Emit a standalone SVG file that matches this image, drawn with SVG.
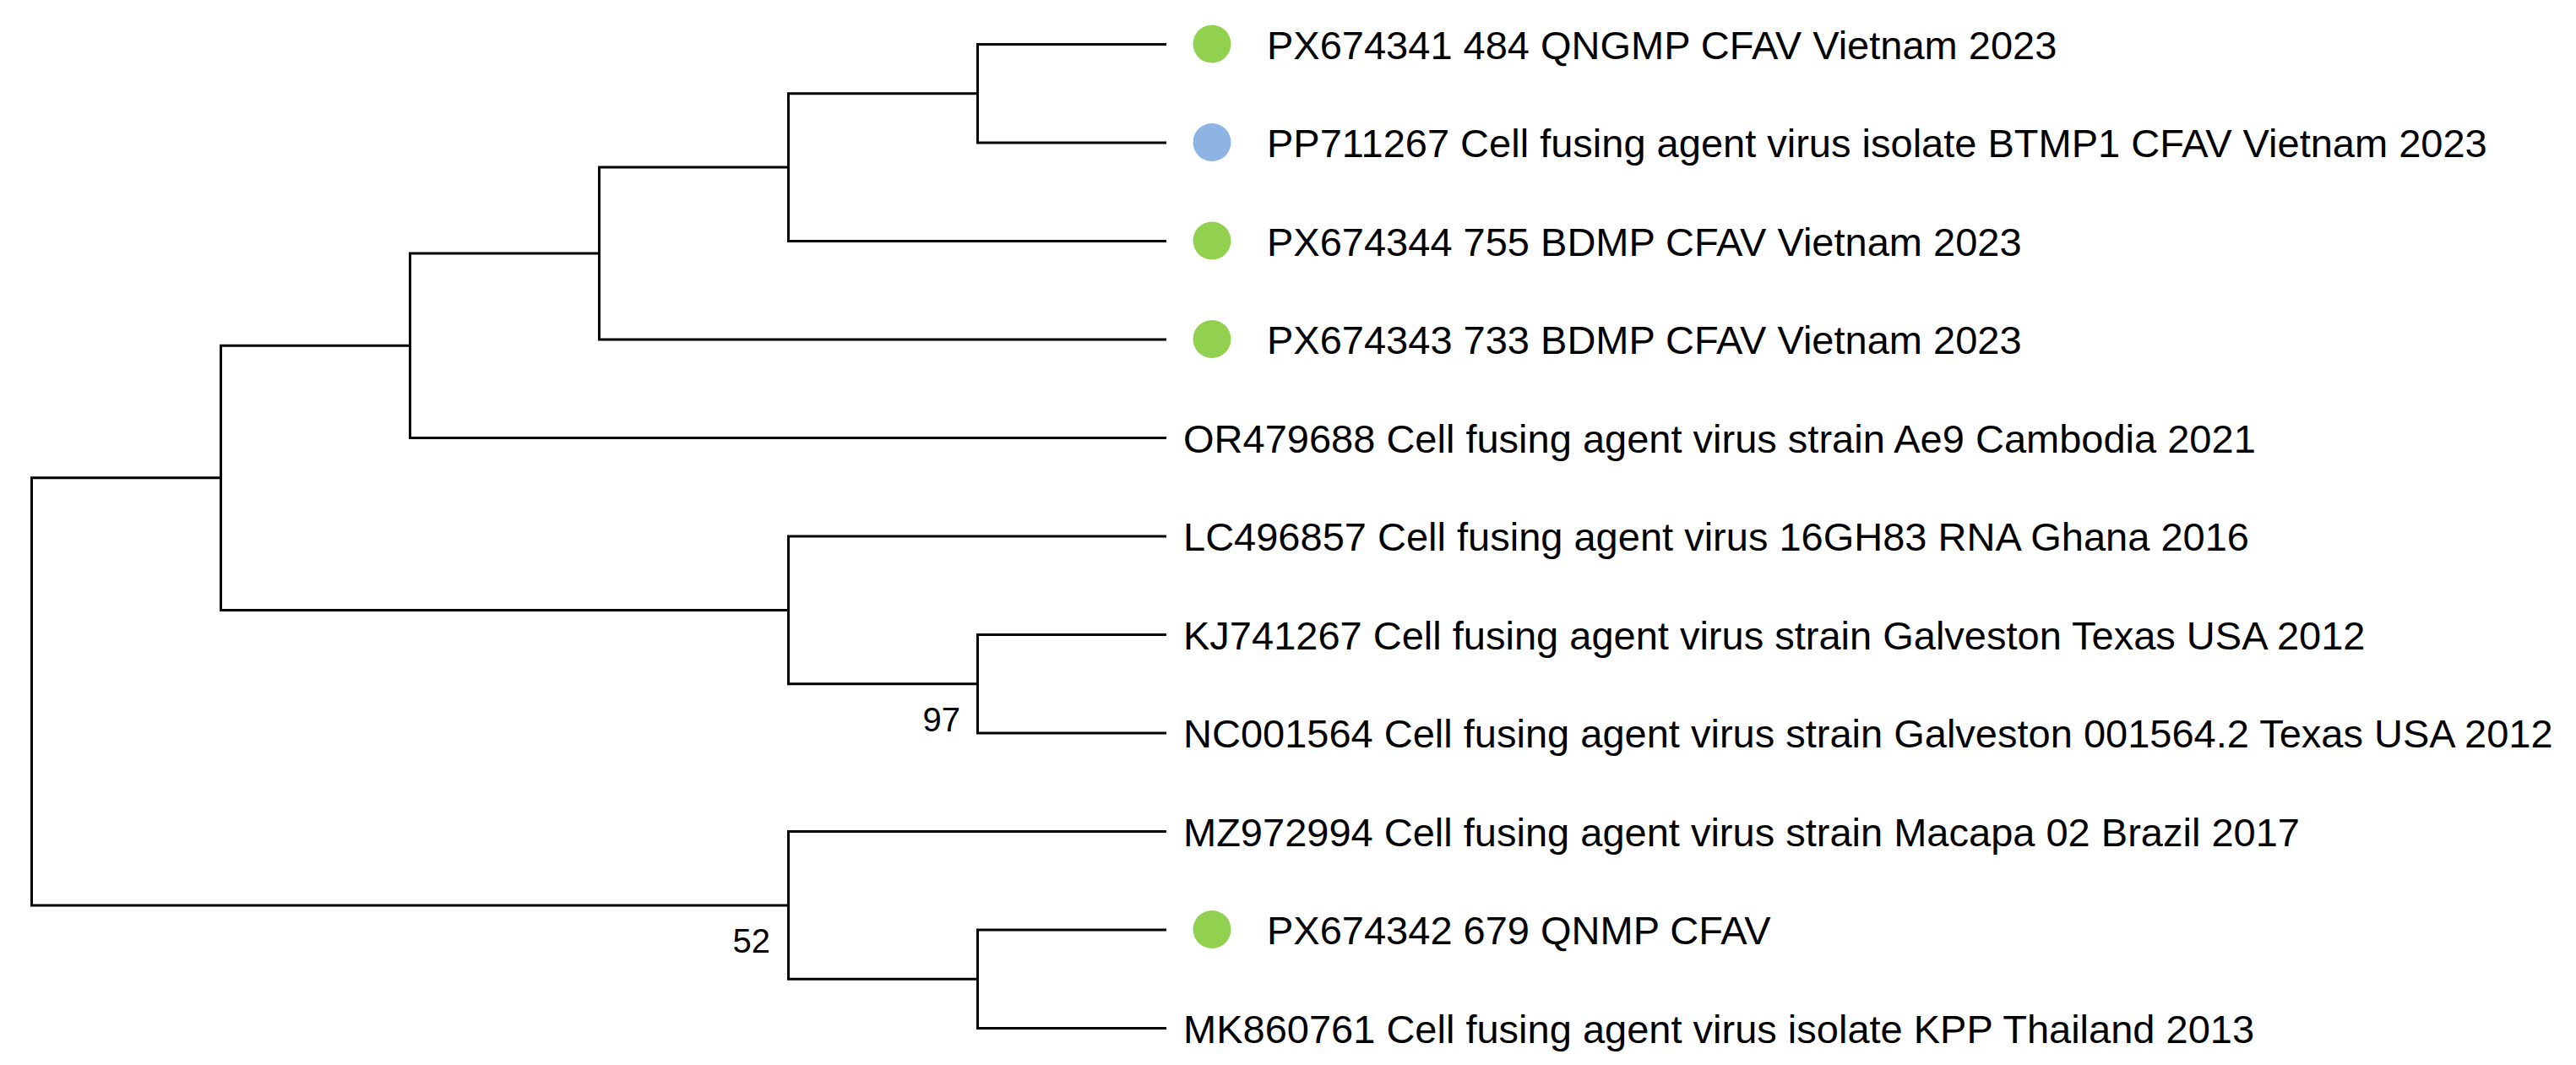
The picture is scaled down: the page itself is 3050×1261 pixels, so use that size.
<svg xmlns="http://www.w3.org/2000/svg" width="3050" height="1261" viewBox="0 0 3050 1261">
<style>
.br{fill:none;stroke:#000;stroke-width:3;stroke-linejoin:miter;stroke-linecap:butt}
.lbl{font-family:"Liberation Sans",Arial,sans-serif;font-size:47px;fill:#000}
.bs{font-family:"Liberation Sans",Arial,sans-serif;font-size:40px;fill:#000;text-anchor:end}
.g{fill:#92D050}
.b{fill:#8EB4E3}
</style>
<rect width="3050" height="1261" fill="#fff"/>
<g id="connectors">
<path class="br" d="M1381 52.5 H1157.5 V169 H1381"/>
<path class="br" d="M1157.5 110.75 H933.5 V285.5 H1381"/>
<path class="br" d="M933.5 198.1 H709.5 V402 H1381"/>
<path class="br" d="M709.5 300.1 H485.5 V518.5 H1381"/>
<path class="br" d="M1381 751.5 H1157.5 V868 H1381"/>
<path class="br" d="M1381 635 H933.5 V809.75 H1157.5"/>
<path class="br" d="M485.5 409.3 H261.5 V722.4 H933.5"/>
<path class="br" d="M1381 1101 H1157.5 V1217.5 H1381"/>
<path class="br" d="M1381 984.5 H933.5 V1159.25 H1157.5"/>
<path class="br" d="M261.5 565.8 H37.5 V1071.9 H933.5"/>
</g>
<g id="support">
<text class="bs" x="1137" y="866">97</text>
<text class="bs" x="912" y="1128">52</text>
</g>
<g id="leaf-PX674341"><circle class="g" cx="1435" cy="52" r="22.5"/><text class="lbl" x="1500" y="69.5">PX674341 484 QNGMP CFAV Vietnam 2023</text></g>
<g id="leaf-PP711267"><circle class="b" cx="1435" cy="168.5" r="22.5"/><text class="lbl" x="1500" y="186">PP711267 Cell fusing agent virus isolate BTMP1 CFAV Vietnam 2023</text></g>
<g id="leaf-PX674344"><circle class="g" cx="1435" cy="285" r="22.5"/><text class="lbl" x="1500" y="302.5">PX674344 755 BDMP CFAV Vietnam 2023</text></g>
<g id="leaf-PX674343"><circle class="g" cx="1435" cy="401.5" r="22.5"/><text class="lbl" x="1500" y="419">PX674343 733 BDMP CFAV Vietnam 2023</text></g>
<g id="leaf-OR479688"><text class="lbl" x="1401" y="535.5">OR479688 Cell fusing agent virus strain Ae9 Cambodia 2021</text></g>
<g id="leaf-LC496857"><text class="lbl" x="1401" y="652">LC496857 Cell fusing agent virus 16GH83 RNA Ghana 2016</text></g>
<g id="leaf-KJ741267"><text class="lbl" x="1401" y="768.5">KJ741267 Cell fusing agent virus strain Galveston Texas USA 2012</text></g>
<g id="leaf-NC001564"><text class="lbl" x="1401" y="885">NC001564 Cell fusing agent virus strain Galveston 001564.2 Texas USA 2012</text></g>
<g id="leaf-MZ972994"><text class="lbl" x="1401" y="1001.5">MZ972994 Cell fusing agent virus strain Macapa 02 Brazil 2017</text></g>
<g id="leaf-PX674342"><circle class="g" cx="1435" cy="1100.5" r="22.5"/><text class="lbl" x="1500" y="1118">PX674342 679 QNMP CFAV</text></g>
<g id="leaf-MK860761"><text class="lbl" x="1401" y="1234.5">MK860761 Cell fusing agent virus isolate KPP Thailand 2013</text></g>
</svg>
